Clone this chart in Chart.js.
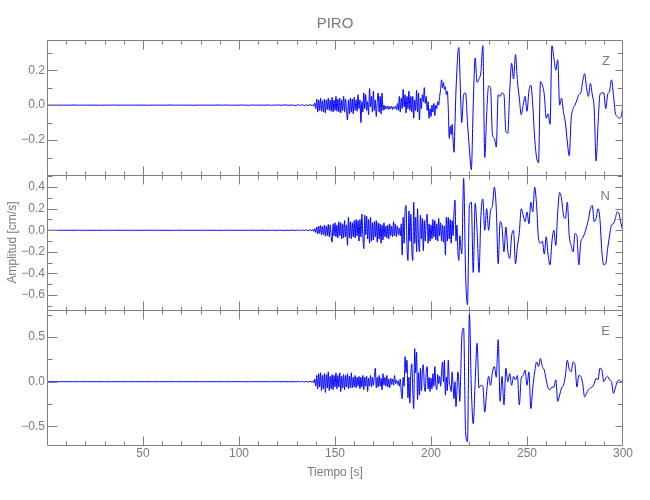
<!DOCTYPE html>
<html>
<head>
<meta charset="utf-8">
<script src="https://cdn.jsdelivr.net/npm/chart.js@4.4.0/dist/chart.umd.min.js"></script>
<style>
  html, body { margin: 0; padding: 0; background: #fff; }
</style>
</head>
<body>
<canvas id="myChart" width="650" height="500"></canvas>
<script>
const stationName = 'PIRO';
const componentNames = ['Z', 'N', 'E'];

// three sampling windows: quiet part, first arrivals (denser), strong motion
const preStart = 0, preStep = 1;        // 0 - 137 s
const burstStart = 138, burstStep = 0.5; // 138 - 215.5 s
const codaStart = 216, codaStep = 1;     // 216 - 300 s

// vertical component, cm/s
const zPre = [
  0, 0, 0, 0, 0, 0, 0, 0, 0, 0,
  0, 0, 0, 0, 0.001, 0, 0, 0, 0, 0,
  0, 0, 0, 0, 0, 0, 0, -0.001, 0, 0,
  0, 0, 0, 0, 0, 0.001, 0, 0, 0, 0,
  0, 0, 0, 0, 0, 0, 0, 0, 0.001, 0,
  0, 0, 0, -0.001, 0, 0, 0, 0, 0, 0,
  0, 0, 0, 0, 0.001, 0, 0, 0, 0, 0,
  0, 0, 0, 0, 0, 0, -0.001, 0, 0, 0,
  0, 0, 0, 0, 0, 0, 0, 0, 0, 0.001,
  0, 0, 0, 0.001, 0, 0, 0, 0, -0.001, 0,
  0, 0.001, 0, 0, 0, -0.001, 0, 0.001, 0, 0,
  0, -0.001, 0.001, 0, 0, 0.001, 0, -0.001, 0, 0.001,
  0, 0.001, -0.001, 0, 0.002, 0, -0.001, 0.001, 0, -0.002,
  0, 0.002, -0.002, 0.003, -0.003, 0.002, -0.003, 0.004
];
const zBurst = [
  -0.004, 0.003, -0.006, 0.012,
  -0.02, 0.035, -0.04, 0.03, -0.03, 0.04, -0.035, 0.025, -0.04, 0.035,
  -0.045, 0.03, -0.025, 0.04, -0.03, 0.03, -0.035, 0.045, -0.04, 0.03,
  -0.03, 0.05, -0.035, 0.035, -0.04, 0.04, -0.045, 0.03, -0.03, 0.05,
  -0.04, 0.035, -0.03, -0.085, 0.03, -0.05, 0.04, -0.04, 0.035, -0.05,
  0.045, -0.03, 0.03, -0.035, 0.06, -0.02, 0.03, -0.1, 0.02, -0.04,
  0.07, -0.02, 0.06, -0.03, 0.02, -0.055, 0.095, -0.01, 0.05, -0.04,
  0.08, -0.03, 0.03, -0.065, 0.02, 0.07, -0.04, 0.05, -0.05, 0.07,
  -0.03, 0, -0.025, -0.005, -0.02, -0.005, -0.025, -0.008, -0.02, -0.005,
  -0.025, -0.01, -0.02, -0.005, -0.025, 0.01, -0.03, 0.05, -0.04, 0.04,
  -0.02, 0.09, -0.01, 0.06, -0.045, 0.05, -0.02, 0.08, -0.03, 0.05,
  -0.04, 0.05, -0.075, 0.03, -0.03, 0.085, -0.04, 0.07, -0.085, 0.04,
  -0.02, 0.06, 0.02, 0.1, 0.01, 0.05, -0.03, 0.02, -0.075, -0.02,
  -0.065, 0, -0.04, 0.01, -0.06, 0, -0.02, 0.02, 0, 0.05,
  0.09, 0.145, 0.1, 0.13, 0.09, 0.105, 0.06, 0.08, -0.02, -0.19,
  -0.12, -0.17, -0.11, -0.2, -0.27, -0.1, 0.08, 0.2, 0.3, 0.33,
  0.2, 0.02
];
const zCoda = [
  -0.1, 0.06, 0.07, -0.1,
  -0.25, -0.37, 0, 0.27, 0.13, 0.15, 0.19, 0.34, -0.3, -0.05,
  0.11, 0.1, -0.17, -0.19, -0.24, 0.06, 0.05, 0.07, 0.06, -0.15,
  -0.16, 0.08, 0.24, 0.15, 0.29, 0.14, 0.04, -0.055, 0, 0.05,
  -0.035, 0.08, 0.115, 0, -0.19, -0.3, -0.33, 0.135, 0.115, 0.06,
  -0.075, -0.05, -0.11, 0.34, 0.27, 0.2, 0.26, 0, 0.04, -0.04,
  -0.1, -0.21, -0.29, -0.08, -0.02, 0, 0.03, 0.06, 0.07, 0.135,
  0.18, 0.1, 0.05, 0.125, 0.06, -0.02, -0.32, -0.11, 0.06, 0.07,
  0.07, -0.02, 0.06, 0.08, 0.145, 0.06, -0.045, -0.065, -0.075, -0.065,
  0
];

// north component
const nPre = [
  0, 0, 0, 0, 0, 0, 0, 0, 0, 0,
  0, 0, 0, 0, 0, 0, 0.001, 0, 0, 0,
  0, 0, 0, 0, 0, 0, 0, 0, 0, -0.001,
  0, 0, 0, 0, 0.001, 0, 0, 0, 0, 0,
  0, 0, 0, 0, 0, 0, 0, -0.001, 0, 0,
  0, 0, 0.001, 0, 0, 0, 0, 0, 0, 0,
  0, 0, 0, 0, 0, -0.001, 0, 0, 0, 0,
  0, 0, 0, 0.001, 0, 0, 0, 0, 0, 0,
  0, 0, 0, 0, 0, 0, 0, 0.001, 0, 0,
  0, -0.001, 0, 0, 0, 0, 0.001, 0, 0, 0,
  0, 0, 0.001, 0, -0.001, 0, 0, 0.001, 0, 0,
  -0.001, 0, 0.001, 0, 0, -0.001, 0, 0.001, 0, -0.001,
  0, 0.001, 0, -0.002, 0, 0.001, -0.001, 0, 0.002, -0.001,
  0, 0.002, -0.003, 0.003, -0.002, 0.004, -0.004, 0.006
];
const nBurst = [
  -0.006, 0.008, -0.01, 0.015,
  -0.02, 0.03, -0.035, 0.04, -0.03, 0.045, -0.045, 0.035, -0.04, 0.05,
  -0.055, 0.04, -0.05, 0.055, -0.06, 0.05, -0.05, -0.11, 0.06, -0.05,
  0.07, -0.06, 0.05, -0.07, 0.08, -0.05, 0.07, -0.08, 0.06, -0.07,
  0.09, -0.06, 0.05, -0.14, 0.12, -0.07, 0.08, -0.08, 0.07, -0.06,
  0.09, -0.07, 0.1, -0.05, 0.09, -0.1, 0.1, -0.06, 0.15, -0.05,
  -0.17, 0.14, -0.04, 0.13, -0.08, 0.1, -0.12, 0.12, -0.1, 0.07,
  -0.09, 0.08, -0.06, 0.09, -0.11, 0.07, -0.08, 0.06, -0.12, 0.05,
  -0.09, 0.07, -0.06, 0.04, -0.07, 0.05, -0.08, 0.06, -0.05, 0.04,
  -0.06, 0.08, -0.05, 0.06, -0.06, 0.04, -0.04, 0.02, -0.05, 0.06,
  -0.23, 0.12, -0.12, 0.18, 0.23, -0.15, -0.28, 0.18, -0.1, 0.15,
  -0.18, -0.28, 0.26, -0.12, 0.12, -0.2, 0.2, -0.1, -0.2, 0.14,
  -0.08, 0.11, -0.19, 0.09, -0.1, 0.08, 0.15, -0.12, 0.06, -0.1,
  0.05, -0.08, 0.1, -0.06, 0.09, -0.09, 0.06, -0.1, 0.11, -0.05,
  0.07, -0.1, 0.05, -0.11, 0.04, -0.23, 0.12, -0.1, 0.12, -0.08,
  0.1, -0.12, 0.09, -0.05, 0.17, 0.28, -0.1, 0.05, -0.2, -0.28,
  -0.05, -0.15
];
const nCoda = [
  -0.22, 0.48, -0.39, -0.69,
  0.23, 0.26, -0.39, 0.25, 0, -0.39, 0.14, 0.29, 0, 0.2,
  0, 0.18, 0.23, 0.4, 0.2, -0.31, 0.08, 0.03, -0.2, 0.03,
  -0.19, -0.26, -0.05, 0, -0.31, -0.15, -0.02, 0.2, 0.14, 0.08,
  0.17, 0.06, 0.26, 0.17, 0.4, 0.23, -0.08, -0.12, -0.1, -0.22,
  -0.06, -0.23, -0.32, -0.1, 0, -0.14, 0.17, 0.35, 0.29, 0.14,
  0.11, 0.26, -0.05, -0.14, -0.2, -0.03, -0.05, -0.32, -0.11, -0.07,
  -0.03, 0.03, 0.1, 0.2, 0.23, 0.08, 0.11, 0.2, 0.1, -0.2,
  -0.32, -0.31, -0.17, -0.05, 0.05, 0.06, 0.11, 0.17, 0.15, 0.06,
  -0.01
];

// east component
const ePre = [
  0, 0, 0, 0, 0, 0, 0, 0, 0, 0,
  0, 0, 0, 0, 0, 0, 0, 0, 0.001, 0,
  0, 0, 0, 0, 0, 0, 0, 0, 0, 0,
  0, 0, -0.001, 0, 0, 0, 0, 0, 0, 0,
  0, 0, 0, 0, 0, 0.001, 0, 0, 0, 0,
  0, 0, 0, 0, 0, 0, 0, 0, -0.001, 0,
  0, 0, 0, 0, 0, 0, 0, 0.001, 0, 0,
  0, 0, 0, 0, -0.001, 0, 0, 0, 0, 0,
  0, 0, 0.001, 0, 0, 0, 0, 0, 0, 0,
  0, 0, 0, 0, 0, -0.001, 0, 0, 0.001, 0,
  0, 0.001, 0, 0, -0.001, 0, 0, 0, 0.001, 0,
  0, -0.001, 0, 0.001, 0, 0, -0.001, 0, 0.001, 0,
  0.001, 0, -0.001, 0, 0.002, -0.001, 0, 0.001, -0.002, 0,
  0, 0.003, -0.003, 0.004, -0.004, 0.003, -0.005, 0.006
];
const eBurst = [
  -0.006, 0.01, -0.015, 0.03,
  -0.05, 0.07, -0.08, 0.09, -0.06, 0.1, -0.1, 0.07, -0.08, 0.09,
  -0.12, 0.08, -0.07, 0.11, -0.1, 0.06, -0.08, 0.08, -0.09, 0.07,
  -0.06, 0.1, -0.08, 0.07, -0.06, 0.1, -0.11, 0.06, -0.07, 0.08,
  -0.09, 0.07, -0.06, 0.09, -0.08, 0.06, -0.07, 0.1, -0.07, 0.05,
  -0.06, 0.07, -0.07, 0.05, -0.05, 0.06, -0.08, 0.05, -0.06, 0.07,
  -0.09, 0.05, -0.05, 0.06, -0.11, 0.04, -0.05, 0.07, -0.06, 0.05,
  -0.04, 0.06, 0.15, -0.07, 0.05, -0.06, 0.07, -0.05, 0.04, -0.09,
  0.09, -0.04, 0.05, -0.05, 0.07, -0.06, 0.03, -0.07, 0.04, -0.03,
  0.03, -0.04, 0.07, -0.02, 0.02, -0.03, 0.01, -0.05, 0.03, -0.12,
  -0.19, 0.05, -0.05, 0.28, 0.1, 0.24, -0.18, 0.05, -0.24, 0.1,
  0.2, -0.1, -0.3, 0.37, 0.1, 0.33, -0.2, 0.1, -0.15, 0.15,
  -0.1, 0.12, 0.19, -0.05, -0.11, 0.1, 0.17, -0.08, 0.05, -0.11,
  0.04, -0.08, 0.09, -0.05, 0.17, -0.03, -0.09, 0.08, -0.02, 0.06,
  -0.05, 0.1, 0.22, 0, 0.24, -0.15, 0.05, -0.1, 0.24, 0,
  -0.05, -0.11, 0.11, -0.05, -0.19, 0, -0.28, -0.1, 0.11, 0,
  -0.22, 0.1
];
const eCoda = [
  0.48, 0.6, -0.56, -0.67,
  0.76, -0.07, -0.47, 0, 0.43, -0.07, -0.04, -0.05, -0.34, -0.11,
  0.06, -0.04, 0.11, 0.17, 0.05, 0.47, -0.22, 0.06, -0.26, 0.15,
  0, 0.09, -0.04, 0.06, 0.02, 0.07, -0.26, 0.04, 0.07, 0.13,
  -0.04, 0.11, -0.3, -0.07, 0.11, 0.22, 0.17, 0.26, 0.17, 0.13,
  0.02, -0.07, -0.09, -0.06, -0.06, 0.02, -0.22, -0.15, -0.07, -0.04,
  0.07, 0.24, 0.14, 0.11, 0.22, 0.19, -0.06, 0.07, 0.06, -0.02,
  -0.17, -0.13, -0.09, -0.07, -0.06, -0.02, 0.04, 0.02, 0.15, 0.13,
  0, 0.04, 0.06, 0.02, 0, -0.13, -0.07, 0, 0.02, 0,
  0
];

// axis ranges and ticks
const timeRange = [0, 300];
const timeTicks = [10, 20, 30, 40, 50, 60, 70, 80, 90, 100, 110, 120, 130, 140, 150,
  160, 170, 180, 190, 200, 210, 220, 230, 240, 250, 260, 270, 280, 290, 300];
const timeMajorTicks = [50, 100, 150, 200, 250, 300];

const zRange = [-0.4, 0.373];
const zTicks = [-0.3, -0.2, -0.1, 0, 0.1, 0.2, 0.3];
const zMajorTicks = [-0.2, 0, 0.2];

const nRange = [-0.738, 0.512];
const nTicks = [-0.7, -0.6, -0.5, -0.4, -0.3, -0.2, -0.1, 0, 0.1, 0.2, 0.3, 0.4, 0.5];
const nMajorTicks = [-0.6, -0.4, -0.2, 0, 0.2, 0.4];

const eRange = [-0.708, 0.802];
const eTicks = [-0.5, -0.25, 0, 0.25, 0.5, 0.75];
const eMajorTicks = [-0.5, 0, 0.5];

const fontFamily = "'Liberation Sans', Arial, sans-serif";
const textColor = '#7a7a7a';
const frameColor = '#808080';
const traceColor = '#0000ff';
const tickFont = {family: fontFamily, size: 12};

const majorsByAxis = {x: timeMajorTicks, yZ: zMajorTicks, yN: nMajorTicks, yE: eMajorTicks};

function toPoints(pre, burst, coda) {
  const seg = (values, start, step) => values.map((v, i) => ({x: start + i * step, y: v}));
  return seg(pre, preStart, preStep)
    .concat(seg(burst, burstStart, burstStep))
    .concat(seg(coda, codaStart, codaStep));
}

function isMajor(v, majors) {
  return majors.some(m => Math.abs(m - v) < 1e-9);
}

function fmt(v) {
  return (v < -1e-9 ? '\u2212' : '') + Math.abs(v).toFixed(1);
}

function traceAxis(range, ticks, majors, weight, title) {
  return {
    type: 'linear',
    position: 'left',
    stack: 'traces',
    stackWeight: 1,
    weight: weight,
    min: range[0],
    max: range[1],
    grid: {display: false, drawTicks: false},
    border: {display: false},
    afterBuildTicks: s => { s.ticks = ticks.map(v => ({value: v})); },
    ticks: {
      autoSkip: false,
      padding: 2,
      color: textColor,
      font: tickFont,
      callback: v => isMajor(v, majors) ? fmt(v) : ''
    },
    title: {
      display: !!title,
      text: title || '',
      color: textColor,
      font: {family: fontFamily, size: 12},
      padding: {top: 5, bottom: 0}
    },
    afterFit: s => { s.width = 47; }
  };
}

// panel frames, inward tick marks and component letters
const framePlugin = {
  id: 'framePlugin',
  afterDatasetsDraw(chart) {
    const {ctx, chartArea, scales} = chart;
    const xs = scales.x;
    const left = Math.round(chartArea.left) + 0.5;
    const right = Math.round(chartArea.right) - 0.5;
    ctx.save();
    ctx.strokeStyle = frameColor;
    ctx.lineWidth = 1;
    ['yZ', 'yN', 'yE'].forEach((id, k) => {
      const ys = scales[id];
      const top = Math.round(ys.top) + 0.5;
      const bottom = Math.round(ys.bottom) + 0.5; // shared line with the next panel
      ctx.beginPath();
      ctx.rect(left, top, right - left, bottom - top);
      ys.ticks.forEach(t => {
        const y = Math.round(ys.getPixelForValue(t.value)) + 0.5;
        const major = isMajor(t.value, majorsByAxis[id]);
        ctx.moveTo(left, y); ctx.lineTo(left + (major ? 10 : 5), y);
        ctx.moveTo(right, y); ctx.lineTo(right - (major ? 7 : 5), y);
      });
      xs.ticks.forEach(t => {
        const x = Math.round(xs.getPixelForValue(t.value)) + 0.5;
        if (x >= right - 1) return; // the frame already covers the edge
        const len = isMajor(t.value, timeMajorTicks) ? 9 : 4;
        ctx.moveTo(x, top); ctx.lineTo(x, top + len);
        ctx.moveTo(x, bottom); ctx.lineTo(x, bottom - len);
      });
      ctx.stroke();
      ctx.fillStyle = textColor;
      ctx.font = '13px ' + fontFamily;
      ctx.textAlign = 'right';
      ctx.textBaseline = 'middle';
      ctx.fillText(componentNames[k], chartArea.right - 13, ys.top + 21);
    });
    ctx.restore();
  }
};

let ctx = document.getElementById('myChart').getContext('2d');
var myChart = new Chart(ctx, {
  type: 'line',
  data: {
    datasets: [
      {label: componentNames[0], data: toPoints(zPre, zBurst, zCoda), yAxisID: 'yZ'},
      {label: componentNames[1], data: toPoints(nPre, nBurst, nCoda), yAxisID: 'yN'},
      {label: componentNames[2], data: toPoints(ePre, eBurst, eCoda), yAxisID: 'yE'}
    ]
  },
  options: {
    responsive: false,
    animation: false,
    layout: {padding: {left: 0, right: 27, top: 0, bottom: 0}},
    elements: {
      line: {
        borderColor: traceColor,
        borderWidth: 1,
        cubicInterpolationMode: 'monotone',
        fill: false
      },
      point: {radius: 0, hoverRadius: 0}
    },
    plugins: {
      legend: {display: false},
      tooltip: {enabled: false},
      title: {
        display: true,
        text: stationName,
        fullSize: false,
        color: textColor,
        font: {family: fontFamily, size: 15, weight: 'normal', lineHeight: 1.2},
        padding: {top: 15, bottom: 7}
      }
    },
    scales: {
      x: {
        type: 'linear',
        position: 'bottom',
        min: timeRange[0],
        max: timeRange[1],
        grid: {display: false, drawTicks: false},
        border: {display: false},
        afterBuildTicks: s => { s.ticks = timeTicks.map(v => ({value: v})); },
        ticks: {
          autoSkip: false,
          maxRotation: 0,
          padding: 1,
          color: textColor,
          font: tickFont,
          callback: v => isMajor(v, timeMajorTicks) ? String(v) : ''
        },
        title: {
          display: true,
          text: 'Tiempo [s]',
          color: textColor,
          font: {family: fontFamily, size: 12},
          padding: {top: 4, bottom: 20}
        },
        afterFit: s => { s.height = 55; }
      },
      yZ: traceAxis(zRange, zTicks, zMajorTicks, 3, null),
      yN: traceAxis(nRange, nTicks, nMajorTicks, 2, 'Amplitud [cm/s]'),
      yE: traceAxis(eRange, eTicks, eMajorTicks, 1, null)
    }
  },
  plugins: [framePlugin]
});
</script>
</body>
</html>
